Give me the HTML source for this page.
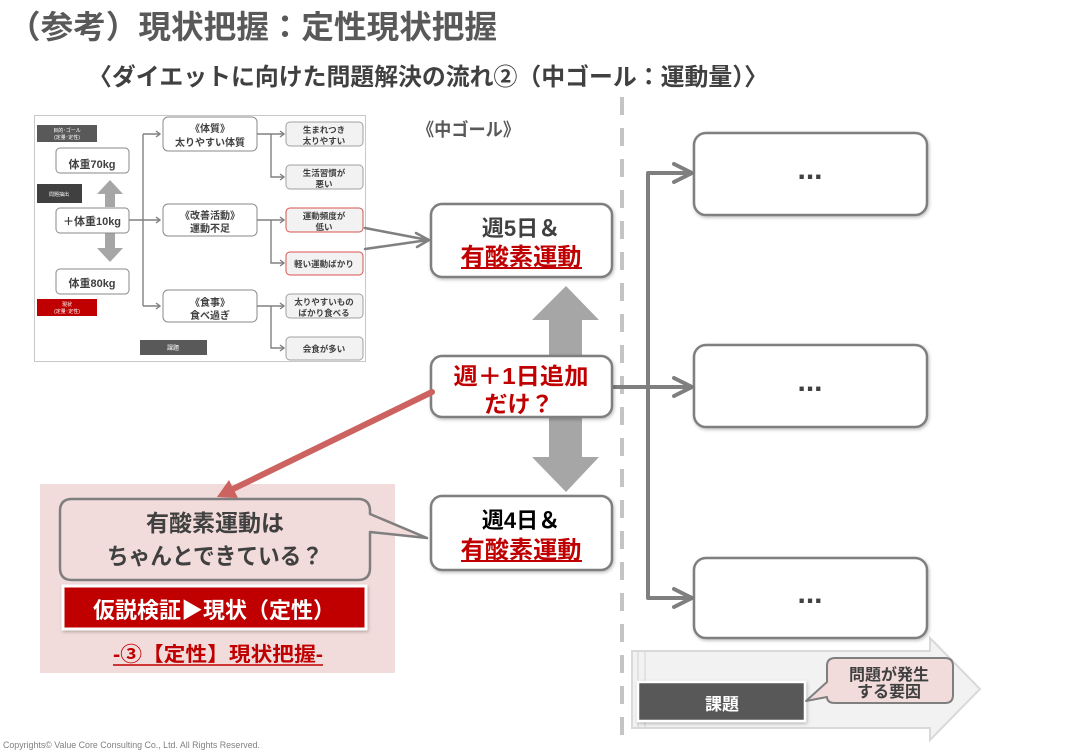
<!DOCTYPE html>
<html><head><meta charset="utf-8"><style>
html,body{margin:0;padding:0;background:#fff;}
svg{display:block;}
</style></head><body>
<svg width="1080" height="751" viewBox="0 0 1080 751" xmlns="http://www.w3.org/2000/svg" font-family="'Liberation Sans','Noto Sans CJK JP',sans-serif">
<defs>
<filter id="sh" x="-10%" y="-10%" width="130%" height="140%"><feDropShadow dx="1" dy="1.5" stdDeviation="1.5" flood-color="#000" flood-opacity="0.25"/></filter>
</defs>
<rect width="1080" height="751" fill="#fff"/>

<!-- Title -->
<text x="8" y="38" font-size="32" font-weight="bold" fill="#595959" textLength="489" lengthAdjust="spacingAndGlyphs">（参考）現状把握：定性現状把握</text>
<text x="88" y="85" font-size="24" font-weight="bold" fill="#404040" textLength="680" lengthAdjust="spacingAndGlyphs">〈ダイエットに向けた問題解決の流れ②（中ゴール：運動量）〉</text>

<!-- dashed divider -->
<line x1="622" y1="97" x2="622" y2="736" stroke="#c4c4c4" stroke-width="4" stroke-dasharray="18 13"/>

<!-- Thumbnail -->
<rect x="34.5" y="115.5" width="331" height="246" fill="#fff" stroke="#c8c8c8" stroke-width="1"/>
<rect x="37" y="125" width="60" height="17" fill="#595959"/>
<text x="67" y="132" font-size="5" fill="#fff" text-anchor="middle">目的･ゴール</text>
<text x="67" y="139" font-size="5" fill="#fff" text-anchor="middle">(定量･定性)</text>
<rect x="37" y="184" width="45" height="19" fill="#404040"/>
<text x="59" y="196" font-size="5" fill="#fff" text-anchor="middle">問題抽出</text>
<rect x="37" y="299" width="60" height="17" fill="#c00000"/>
<text x="67" y="306" font-size="5" fill="#fff" text-anchor="middle">現状</text>
<text x="67" y="313" font-size="5" fill="#fff" text-anchor="middle">(定量･定性)</text>
<rect x="140" y="340" width="67" height="15" fill="#595959"/>
<text x="173" y="350" font-size="6" fill="#fff" text-anchor="middle">課題</text>

<polygon points="110,180 123,194 115,194 115,207 105,207 105,194 97,194" fill="#a6a6a6"/>
<polygon points="105,233 115,233 115,248 123,248 110,262 97,248 105,248" fill="#a6a6a6"/>

<g fill="#fff" stroke="#8a8a8a" stroke-width="1">
<rect x="56" y="148" width="73" height="25" rx="4"/>
<rect x="56" y="208" width="73" height="25" rx="4"/>
<rect x="56" y="269" width="73" height="25" rx="4"/>
<rect x="163" y="117" width="94" height="34" rx="5"/>
<rect x="163" y="204" width="94" height="32" rx="5"/>
<rect x="163" y="290" width="94" height="32" rx="5"/>
</g>
<g fill="#f2f2f2" stroke="#a0a0a0" stroke-width="1">
<rect x="286" y="122" width="77" height="24" rx="4"/>
<rect x="286" y="165" width="77" height="24" rx="4"/>
<rect x="286" y="294" width="77" height="24" rx="4"/>
<rect x="286" y="337" width="77" height="23" rx="4"/>
</g>
<g fill="#f2f2f2" stroke="#d9534f" stroke-width="1">
<rect x="286" y="208" width="77" height="24" rx="4"/>
<rect x="286" y="252" width="77" height="23" rx="4"/>
</g>
<g stroke="#808080" stroke-width="1.4" fill="none">
<path d="M129 220 H143 M143 134 V306 M143 134 H160 M143 220 H160 M143 306 H160"/>
<path d="M156 131 L160 134 L156 137 M156 217 L160 220 L156 223 M156 303 L160 306 L156 309"/>
<path d="M257 134 H271 V177 H284 M271 134 H284"/>
<path d="M257 220 H271 V263 H284 M271 220 H284"/>
<path d="M257 306 H271 V348 H284 M271 306 H284"/>
<path d="M280 131 L284 134 L280 137 M280 174 L284 177 L280 180 M280 217 L284 220 L280 223 M280 260 L284 263 L280 266 M280 303 L284 306 L280 309 M280 345 L284 348 L280 351"/>
</g>
<g font-weight="bold" fill="#404040" text-anchor="middle">
<text x="92" y="168" font-size="11">体重70kg</text>
<text x="92" y="225" font-size="11">＋体重10kg</text>
<text x="92" y="287" font-size="11">体重80kg</text>
<g font-size="10">
<text x="210" y="132">《体質》</text>
<text x="210" y="146">太りやすい体質</text>
<text x="210" y="219">《改善活動》</text>
<text x="210" y="232">運動不足</text>
<text x="210" y="306">《食事》</text>
<text x="210" y="319">食べ過ぎ</text>
</g>
<g font-size="8.5">
<text x="324" y="133">生まれつき</text>
<text x="324" y="144">太りやすい</text>
<text x="324" y="176">生活習慣が</text>
<text x="324" y="187">悪い</text>
<text x="324" y="219">運動頻度が</text>
<text x="324" y="230">低い</text>
<text x="324" y="267">軽い運動ばかり</text>
<text x="324" y="305">太りやすいもの</text>
<text x="324" y="316">ばかり食べる</text>
<text x="324" y="352">会食が多い</text>
</g>
</g>

<!-- arrows from thumbnail to 週5日 -->
<g stroke="#808080" stroke-width="2.5" fill="none" stroke-linecap="round">
<path d="M365 228 L428 240 M365 249 L428 240"/>
<path d="M416 233 L429 240 L417 247"/>
</g>

<!-- 中ゴール label -->
<text x="417" y="136" font-size="18" font-weight="bold" fill="#595959" textLength="103" lengthAdjust="spacingAndGlyphs">《中ゴール》</text>

<!-- big double arrow -->
<polygon points="566,286 599,320 582,320 582,457 599,457 566,492 532,457 549,457 549,320 532,320" fill="#a6a6a6"/>

<!-- right side connectors -->
<g stroke="#7f7f7f" stroke-width="4" fill="none" stroke-linecap="round" stroke-linejoin="round">
<path d="M690 173 H648 V598 H690"/>
<path d="M612 387 H690"/>
<path d="M674 164 L692 173 L674 182"/>
<path d="M674 378 L692 387 L674 396"/>
<path d="M674 589 L692 598 L674 607"/>
</g>

<!-- center boxes -->
<g fill="#fff" stroke="#7f7f7f" stroke-width="2.5" filter="url(#sh)">
<rect x="431" y="204" width="181" height="73" rx="11"/>
<rect x="431" y="356" width="181" height="61" rx="11"/>
<rect x="431" y="496" width="181" height="74" rx="11"/>
</g>
<g font-weight="bold" text-anchor="middle">
<text x="521" y="236" font-size="22" fill="#404040">週5日＆</text>
<text x="521" y="265" font-size="24" fill="#c00000" textLength="121" lengthAdjust="spacingAndGlyphs">有酸素運動</text>
<line x1="461" y1="268" x2="582" y2="268" stroke="#c00000" stroke-width="2"/>
<text x="521" y="384" font-size="23" fill="#c00000" textLength="135" lengthAdjust="spacingAndGlyphs">週＋1日追加</text>
<text x="519" y="412" font-size="23" fill="#c00000">だけ？</text>
<text x="521" y="528" font-size="22" fill="#000">週4日＆</text>
<text x="521" y="558" font-size="24" fill="#c00000" textLength="121" lengthAdjust="spacingAndGlyphs">有酸素運動</text>
<line x1="461" y1="561" x2="582" y2="561" stroke="#c00000" stroke-width="2"/>
</g>

<!-- right boxes -->
<g fill="#fff" stroke="#7f7f7f" stroke-width="2.5" filter="url(#sh)">
<rect x="694" y="133" width="233" height="82" rx="12"/>
<rect x="694" y="345" width="233" height="82" rx="12"/>
<rect x="694" y="558" width="233" height="80" rx="12"/>
</g>
<g font-weight="bold" fill="#404040" text-anchor="middle" font-size="30">
<text x="810" y="179">...</text>
<text x="810" y="391">...</text>
<text x="810" y="603">...</text>
</g>

<!-- pink panel -->
<rect x="40" y="484" width="355" height="189" fill="#f2dcdb"/>
<path d="M72 499 H358 Q370 499 370 511 V514 L427 538 L370 532 V568 Q370 580 358 580 H72 Q60 580 60 568 V511 Q60 499 72 499 Z" fill="#f2dcdb" stroke="#7f7f7f" stroke-width="2.5" stroke-linejoin="round"/>
<g font-weight="bold" fill="#404040" text-anchor="middle">
<text x="215" y="531" font-size="23">有酸素運動は</text>
<text x="215" y="564" font-size="23" textLength="216" lengthAdjust="spacingAndGlyphs">ちゃんとできている？</text>
</g>
<rect x="63" y="586" width="303" height="43" fill="#c00000" stroke="#fff" stroke-width="3" filter="url(#sh)"/>
<text x="214" y="618" font-size="22" font-weight="bold" fill="#fff" text-anchor="middle" textLength="242" lengthAdjust="spacingAndGlyphs">仮説検証▶現状（定性）</text>
<text x="218" y="661" font-size="20" font-weight="bold" fill="#c00000" text-anchor="middle" textLength="210" lengthAdjust="spacingAndGlyphs">-③【定性】現状把握-</text>
<line x1="113" y1="665" x2="323" y2="665" stroke="#c00000" stroke-width="1.5"/>

<!-- red arrow -->
<line x1="432" y1="392" x2="233" y2="489" stroke="#cc6360" stroke-width="6" stroke-linecap="round"/>
<polygon points="217,497 229,480 238,498" fill="#cc6360"/>

<!-- bottom right arrow -->
<path d="M632 651 H930 V638 L980 689 L930 740 V728 H632 Z" fill="#f2f2f2" stroke="#d9d9d9" stroke-width="2"/>
<line x1="638" y1="652" x2="638" y2="727" stroke="#dcdcdc" stroke-width="1.5"/>
<line x1="645" y1="652" x2="645" y2="727" stroke="#dcdcdc" stroke-width="1.5"/>
<rect x="638" y="682" width="167" height="39" fill="#595959" stroke="#fff" stroke-width="2.5" filter="url(#sh)"/>
<text x="722" y="710" font-size="17" font-weight="bold" fill="#fff" text-anchor="middle">課題</text>
<path d="M835 658 H945 Q953 658 953 666 V695 Q953 703 945 703 H835 Q827 703 827 697 L806 701 L827 682 V666 Q827 658 835 658 Z" fill="#f2dcdb" stroke="#7f7f7f" stroke-width="2" stroke-linejoin="round"/>
<g font-weight="bold" fill="#404040" text-anchor="middle" font-size="16">
<text x="889" y="680">問題が発生</text>
<text x="889" y="697">する要因</text>
</g>

<!-- copyright -->
<text x="3" y="748" font-size="9" fill="#808080" textLength="257" lengthAdjust="spacingAndGlyphs">Copyrights© Value Core Consulting Co., Ltd.  All Rights Reserved.</text>
</svg>
</body></html>
